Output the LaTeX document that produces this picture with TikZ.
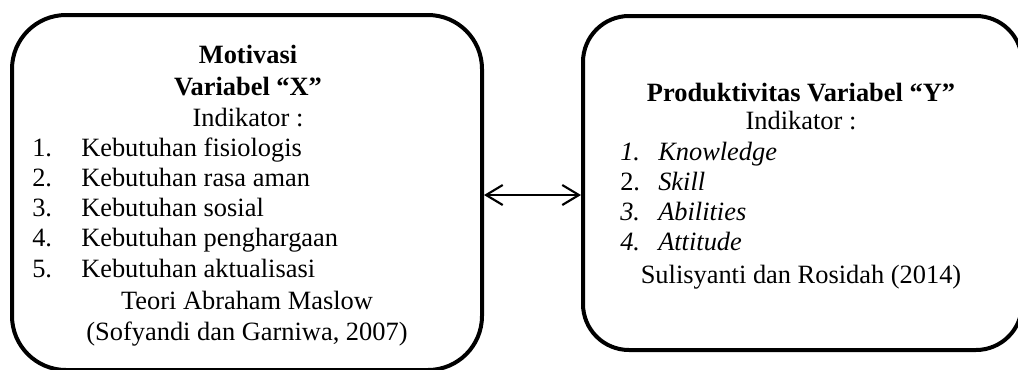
\documentclass[tikz,border=0pt]{standalone}
\usepackage{fontspec}
\setmainfont{Liberation Serif}
\usetikzlibrary{arrows.meta}
\begin{document}
\begin{tikzpicture}[x=0.75pt,y=-0.75pt,
    kotak/.style={draw,line width=3pt,inner sep=0pt},
    teks/.style={inner sep=0pt,font=\fontsize{19.8pt}{22.9pt}\selectfont},
    panah/.style={{Straight Barb[length=12.5pt,width=15pt]}-{Straight Barb[length=12.5pt,width=15pt]},line width=1.6pt}]
  \clip (0,0) rectangle (1018,369);
  % kotak kiri dan kanan
  \node[kotak,rounded corners=40.5pt,minimum width=352.5pt,minimum height=266.25pt] (kotakX) at (247,192.5) {};
  \node[kotak,rounded corners=34.5pt,minimum width=329.25pt,minimum height=250.5pt] (kotakY) at (802.5,183) {};
  % variabel X
  \node[teks,anchor=base,font=\fontsize{19.8pt}{22.9pt}\selectfont\bfseries] (judulX1) at (248,63.3) {Motivasi};
  \node[teks,anchor=base,font=\fontsize{19.8pt}{22.9pt}\selectfont\bfseries] (judulX2) at (248,95.7) {Variabel “X”};
  \node[teks,anchor=base] (indikatorX) at (248,126) {Indikator :};
  \foreach \i/\isi in {1/Kebutuhan fisiologis,2/Kebutuhan rasa aman,3/Kebutuhan sosial,4/Kebutuhan penghargaan,5/Kebutuhan aktualisasi}{
    \node[teks,anchor=base west] (angkaX\i) at (32,156+30.3*\i-30.3) {\i.};
    \node[teks,anchor=base west] (itemX\i) at (81,156+30.3*\i-30.3) {\isi};
  }
  \node[teks,anchor=base] (teoriX) at (247,309) {Teori Abraham Maslow};
  \node[teks,anchor=base] (sumberX) at (247,340) {(Sofyandi dan Garniwa, 2007)};
  % variabel Y
  \node[teks,anchor=base,font=\fontsize{19.8pt}{22.9pt}\selectfont\bfseries] (judulY) at (801,101) {Produktivitas Variabel “Y”};
  \node[teks,anchor=base] (indikatorY) at (801,129) {Indikator :};
  \foreach \i/\isi/\gaya in {1/Knowledge/\itshape,2/Skill/\upshape,3/Abilities/\itshape,4/Attitude/\itshape}{
    \node[teks,anchor=base west] (angkaY\i) at (620,160+30*\i-30) {\gaya\i.};
    \node[teks,anchor=base west] (itemY\i) at (658,160+30*\i-30) {\itshape\isi};
  }
  \node[teks,anchor=base] (sumberY) at (801,283.3) {Sulisyanti dan Rosidah (2014)};
  % hubungan
  \coordinate (tengah) at (530,195);
  \draw[panah] (kotakX.east |- tengah) -- (kotakY.west |- tengah);
\end{tikzpicture}
\end{document}
